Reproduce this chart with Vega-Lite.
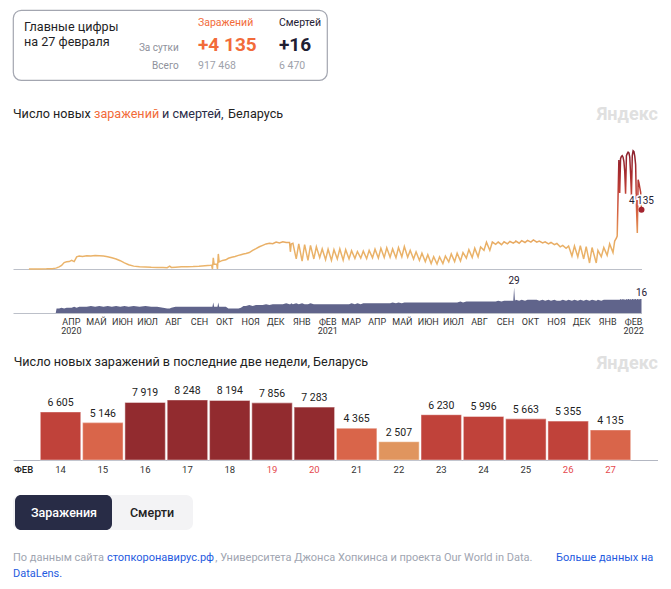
{
  "$schema": "https://vega.github.io/schema/vega-lite/v6.json",
  "background": "#ffffff",
  "padding": {"left": 12, "top": 9, "right": 0, "bottom": 0},
  "spacing": 0,
  "bounds": "flush",
  "config": {
    "font": "Roboto",
    "view": {"stroke": null},
    "locale": {"number": {"decimal": ",", "thousands": " ", "grouping": [3], "currency": ["", ""]}},
    "axis": {"grid": false}
  },
  "datasets": {
    "hdr": [
      {"series": "cases", "head": "Заражений", "day": 4135, "total": 917468},
      {"series": "deaths", "head": "Смертей", "day": 16, "total": 6470}
    ],
    "twoweeks": [
      {"day": "14", "v": 6605}, {"day": "15", "v": 5146}, {"day": "16", "v": 7919}, {"day": "17", "v": 8248},
      {"day": "18", "v": 8194}, {"day": "19", "v": 7856}, {"day": "20", "v": 7283}, {"day": "21", "v": 4365},
      {"day": "22", "v": 2507}, {"day": "23", "v": 6230}, {"day": "24", "v": 5996}, {"day": "25", "v": 5663},
      {"day": "26", "v": 5355}, {"day": "27", "v": 4135}
    ],
    "covid": [
      {"d":"2020-02-27","c":0,"m":0},{"d":"2020-03-05","c":2,"m":0},{"d":"2020-03-12","c":5,"m":0},{"d":"2020-03-19","c":10,"m":0},
      {"d":"2020-03-26","c":25,"m":0},{"d":"2020-03-30","c":60,"m":0},{"d":"2020-03-31","c":80,"m":5},{"d":"2020-04-03","c":150,"m":5},
      {"d":"2020-04-06","c":250,"m":6},{"d":"2020-04-09","c":450,"m":5},{"d":"2020-04-12","c":500,"m":6},{"d":"2020-04-15","c":520,"m":6},
      {"d":"2020-04-18","c":610,"m":6},{"d":"2020-04-21","c":520,"m":7},{"d":"2020-04-24","c":850,"m":6},{"d":"2020-04-27","c":900,"m":7},
      {"d":"2020-05-01","c":870,"m":7},{"d":"2020-05-06","c":920,"m":7},{"d":"2020-05-11","c":900,"m":8},{"d":"2020-05-16","c":940,"m":7},
      {"d":"2020-05-21","c":920,"m":8},{"d":"2020-05-26","c":900,"m":7},{"d":"2020-05-31","c":860,"m":8},{"d":"2020-06-05","c":780,"m":7},
      {"d":"2020-06-10","c":700,"m":8},{"d":"2020-06-15","c":580,"m":7},{"d":"2020-06-20","c":430,"m":8},{"d":"2020-06-25","c":300,"m":7},
      {"d":"2020-07-01","c":200,"m":8},{"d":"2020-07-08","c":160,"m":7},{"d":"2020-07-15","c":140,"m":8},{"d":"2020-07-22","c":120,"m":7},
      {"d":"2020-07-29","c":110,"m":7},{"d":"2020-08-05","c":100,"m":6},{"d":"2020-08-10","c":90,"m":5},{"d":"2020-08-13","c":200,"m":5},
      {"d":"2020-08-15","c":110,"m":6},{"d":"2020-08-20","c":130,"m":7},{"d":"2020-08-27","c":150,"m":7},{"d":"2020-09-03","c":160,"m":7},
      {"d":"2020-09-10","c":170,"m":7},{"d":"2020-09-17","c":190,"m":7},{"d":"2020-09-24","c":230,"m":7},{"d":"2020-10-01","c":260,"m":7},
      {"d":"2020-10-02","c":270,"m":7},{"d":"2020-10-03","c":0,"m":7},{"d":"2020-10-04","c":780,"m":12},{"d":"2020-10-05","c":330,"m":7},
      {"d":"2020-10-08","c":350,"m":7},{"d":"2020-10-09","c":0,"m":7},{"d":"2020-10-10","c":1050,"m":12},{"d":"2020-10-11","c":500,"m":7},
      {"d":"2020-10-15","c":600,"m":7},{"d":"2020-10-19","c":640,"m":7},{"d":"2020-10-22","c":750,"m":5},{"d":"2020-10-26","c":820,"m":5},
      {"d":"2020-10-30","c":870,"m":5},{"d":"2020-11-03","c":950,"m":5},{"d":"2020-11-06","c":1000,"m":6},{"d":"2020-11-09","c":1050,"m":8},
      {"d":"2020-11-12","c":1080,"m":8},{"d":"2020-11-16","c":1150,"m":9},{"d":"2020-11-20","c":1300,"m":8},{"d":"2020-11-24","c":1420,"m":9},
      {"d":"2020-11-28","c":1550,"m":9},{"d":"2020-12-02","c":1650,"m":9},{"d":"2020-12-06","c":1750,"m":10},{"d":"2020-12-10","c":1800,"m":9},
      {"d":"2020-12-14","c":1760,"m":10},{"d":"2020-12-18","c":1880,"m":10},{"d":"2020-12-22","c":1820,"m":10},{"d":"2020-12-26","c":1900,"m":10},
      {"d":"2020-12-30","c":1850,"m":11},{"d":"2021-01-03","c":1850,"m":10},{"d":"2021-01-04","c":1200,"m":10},{"d":"2021-01-05","c":1750,"m":11},
      {"d":"2021-01-07","c":1800,"m":10},{"d":"2021-01-11","c":700,"m":11},{"d":"2021-01-14","c":1750,"m":10},{"d":"2021-01-18","c":550,"m":11},
      {"d":"2021-01-21","c":1700,"m":10},{"d":"2021-01-25","c":600,"m":10},{"d":"2021-01-28","c":1650,"m":11},{"d":"2021-02-01","c":700,"m":10},
      {"d":"2021-02-04","c":1550,"m":10},{"d":"2021-02-08","c":800,"m":10},{"d":"2021-02-11","c":1400,"m":10},{"d":"2021-02-15","c":650,"m":10},
      {"d":"2021-02-18","c":1380,"m":10},{"d":"2021-02-22","c":600,"m":10},{"d":"2021-02-25","c":1350,"m":10},{"d":"2021-03-01","c":700,"m":10},
      {"d":"2021-03-04","c":1400,"m":10},{"d":"2021-03-08","c":620,"m":10},{"d":"2021-03-11","c":1350,"m":10},{"d":"2021-03-15","c":700,"m":10},
      {"d":"2021-03-18","c":1280,"m":11},{"d":"2021-03-22","c":740,"m":10},{"d":"2021-03-25","c":1220,"m":11},{"d":"2021-03-29","c":760,"m":10},
      {"d":"2021-04-01","c":1250,"m":11},{"d":"2021-04-05","c":720,"m":11},{"d":"2021-04-08","c":1300,"m":11},{"d":"2021-04-12","c":780,"m":11},
      {"d":"2021-04-15","c":1380,"m":11},{"d":"2021-04-19","c":760,"m":11},{"d":"2021-04-22","c":1450,"m":11},{"d":"2021-04-26","c":800,"m":11},
      {"d":"2021-04-29","c":1480,"m":11},{"d":"2021-05-03","c":820,"m":11},{"d":"2021-05-06","c":1400,"m":12},{"d":"2021-05-10","c":780,"m":11},
      {"d":"2021-05-13","c":1500,"m":12},{"d":"2021-05-17","c":850,"m":11},{"d":"2021-05-20","c":1560,"m":12},{"d":"2021-05-24","c":820,"m":12},
      {"d":"2021-05-27","c":1300,"m":12},{"d":"2021-05-31","c":700,"m":12},{"d":"2021-06-03","c":1200,"m":12},{"d":"2021-06-07","c":600,"m":12},
      {"d":"2021-06-10","c":1100,"m":12},{"d":"2021-06-14","c":520,"m":12},{"d":"2021-06-17","c":1000,"m":12},{"d":"2021-06-21","c":380,"m":12},
      {"d":"2021-06-24","c":860,"m":12},{"d":"2021-06-28","c":350,"m":12},{"d":"2021-07-01","c":850,"m":12},{"d":"2021-07-05","c":380,"m":12},
      {"d":"2021-07-08","c":900,"m":12},{"d":"2021-07-12","c":500,"m":12},{"d":"2021-07-15","c":1050,"m":12},{"d":"2021-07-19","c":520,"m":12},
      {"d":"2021-07-22","c":1100,"m":12},{"d":"2021-07-26","c":560,"m":13},{"d":"2021-07-29","c":1150,"m":12},{"d":"2021-08-02","c":760,"m":13},
      {"d":"2021-08-05","c":1350,"m":13},{"d":"2021-08-09","c":800,"m":13},{"d":"2021-08-12","c":1450,"m":13},{"d":"2021-08-16","c":850,"m":13},
      {"d":"2021-08-19","c":1530,"m":13},{"d":"2021-08-23","c":1300,"m":13},{"d":"2021-08-26","c":1870,"m":13},{"d":"2021-08-30","c":1300,"m":13},
      {"d":"2021-09-02","c":1880,"m":13},{"d":"2021-09-06","c":1720,"m":13},{"d":"2021-09-09","c":1880,"m":14},{"d":"2021-09-13","c":1700,"m":13},
      {"d":"2021-09-16","c":1900,"m":14},{"d":"2021-09-20","c":1760,"m":14},{"d":"2021-09-23","c":1920,"m":14},{"d":"2021-09-27","c":1800,"m":14},
      {"d":"2021-09-28","c":1850,"m":29},{"d":"2021-09-29","c":1880,"m":14},{"d":"2021-09-30","c":1950,"m":15},{"d":"2021-10-04","c":1800,"m":14},
      {"d":"2021-10-07","c":1980,"m":15},{"d":"2021-10-11","c":1850,"m":14},{"d":"2021-10-14","c":2000,"m":15},{"d":"2021-10-18","c":1880,"m":15},
      {"d":"2021-10-21","c":2030,"m":15},{"d":"2021-10-25","c":1870,"m":15},{"d":"2021-10-28","c":1950,"m":14},{"d":"2021-11-01","c":1820,"m":15},
      {"d":"2021-11-04","c":1900,"m":14},{"d":"2021-11-08","c":1750,"m":15},{"d":"2021-11-11","c":1850,"m":14},{"d":"2021-11-15","c":1700,"m":15},
      {"d":"2021-11-18","c":1780,"m":14},{"d":"2021-11-22","c":1550,"m":14},{"d":"2021-11-25","c":1650,"m":15},{"d":"2021-11-29","c":1450,"m":14},
      {"d":"2021-12-02","c":1600,"m":15},{"d":"2021-12-06","c":900,"m":14},{"d":"2021-12-09","c":1600,"m":15},{"d":"2021-12-13","c":850,"m":14},
      {"d":"2021-12-16","c":1620,"m":15},{"d":"2021-12-20","c":700,"m":14},{"d":"2021-12-23","c":1560,"m":15},{"d":"2021-12-27","c":420,"m":14},
      {"d":"2021-12-30","c":1500,"m":15},{"d":"2022-01-04","c":420,"m":14},{"d":"2022-01-06","c":1300,"m":15},{"d":"2022-01-10","c":850,"m":14},
      {"d":"2022-01-13","c":1500,"m":15},{"d":"2022-01-17","c":950,"m":15},{"d":"2022-01-20","c":1750,"m":15},{"d":"2022-01-24","c":1150,"m":15},
      {"d":"2022-01-26","c":1950,"m":15},{"d":"2022-01-27","c":2050,"m":15},{"d":"2022-01-28","c":2150,"m":15},{"d":"2022-01-29","c":2300,"m":15},
      {"d":"2022-01-30","c":5000,"m":15},{"d":"2022-01-31","c":7600,"m":15},{"d":"2022-02-01","c":5300,"m":15},{"d":"2022-02-02","c":7700,"m":16},
      {"d":"2022-02-03","c":7850,"m":15},{"d":"2022-02-04","c":7900,"m":16},{"d":"2022-02-05","c":7800,"m":15},{"d":"2022-02-06","c":7500,"m":16},
      {"d":"2022-02-07","c":6800,"m":15},{"d":"2022-02-08","c":5250,"m":15},{"d":"2022-02-09","c":7900,"m":16},{"d":"2022-02-10","c":8050,"m":15},
      {"d":"2022-02-11","c":8150,"m":16},{"d":"2022-02-12","c":8100,"m":16},{"d":"2022-02-13","c":7800,"m":15},{"d":"2022-02-14","c":6605,"m":16},
      {"d":"2022-02-15","c":5146,"m":15},{"d":"2022-02-16","c":7919,"m":16},{"d":"2022-02-17","c":8248,"m":16},{"d":"2022-02-18","c":8194,"m":15},
      {"d":"2022-02-19","c":7856,"m":16},{"d":"2022-02-20","c":7283,"m":16},{"d":"2022-02-21","c":4365,"m":15},{"d":"2022-02-22","c":2507,"m":16},
      {"d":"2022-02-23","c":6230,"m":16},{"d":"2022-02-24","c":5996,"m":15},{"d":"2022-02-25","c":5663,"m":16},{"d":"2022-02-26","c":5355,"m":16},
      {"d":"2022-02-27","c":4135,"m":16}
    ]
  },
  "vconcat": [
    {
      "width": 314, "height": 70,
      "view": {"stroke": "#a3a6b0", "strokeWidth": 1.2, "cornerRadius": 8},
      "layer": [
        {
          "data": {"values": [{"col": "t", "t": "Главные цифры\nна 27 февраля"}]},
          "mark": {"type": "text", "align": "left", "baseline": "alphabetic", "fontSize": 12.6, "lineBreak": "\n", "lineHeight": 15, "color": "#1f1f26"},
          "encoding": {
            "text": {"field": "t"},
            "x": {"field": "col", "type": "nominal", "scale": {"type": "point", "range": [11, 11]}, "axis": null},
            "y": {"field": "col", "type": "nominal", "scale": {"type": "point", "range": [20.5, 20.5]}, "axis": null}
          }
        },
        {
          "data": {"values": [{"col": "l", "row": "day", "t": "За сутки"}, {"col": "l", "row": "total", "t": "Всего"}]},
          "mark": {"type": "text", "align": "right", "baseline": "alphabetic", "fontSize": 10, "color": "#8e919b"},
          "encoding": {
            "text": {"field": "t"},
            "x": {"field": "col", "type": "nominal", "scale": {"type": "point", "range": [165.7, 165.7]}, "axis": null},
            "y": {"field": "row", "type": "nominal", "scale": {"type": "point", "domain": ["day", "total"], "range": [40.5, 58.5], "padding": 0}, "axis": null}
          }
        },
        {
          "data": {"name": "hdr"},
          "mark": {"type": "text", "align": "left", "baseline": "alphabetic", "fontSize": 10.5},
          "encoding": {
            "text": {"field": "head"},
            "x": {"field": "series", "type": "nominal", "scale": {"type": "point", "domain": ["cases", "deaths"], "range": [185, 266], "padding": 0}, "axis": null},
            "y": {"field": "series", "type": "nominal", "scale": {"type": "point", "range": [16, 16]}, "axis": null},
            "color": {"field": "series", "type": "nominal", "scale": {"domain": ["cases", "deaths"], "range": ["#f26b3a", "#1f2033"]}, "legend": null}
          }
        },
        {
          "data": {"name": "hdr"},
          "mark": {"type": "text", "align": "left", "baseline": "alphabetic", "fontSize": 19, "fontWeight": "bold"},
          "encoding": {
            "text": {"field": "day", "type": "quantitative", "format": "+,d"},
            "x": {"field": "series", "type": "nominal", "scale": {"type": "point", "domain": ["cases", "deaths"], "range": [185, 266], "padding": 0}, "axis": null},
            "y": {"field": "series", "type": "nominal", "scale": {"type": "point", "range": [40.5, 40.5]}, "axis": null},
            "color": {"field": "series", "type": "nominal", "scale": {"domain": ["cases", "deaths"], "range": ["#f26b3a", "#1f2033"]}, "legend": null}
          }
        },
        {
          "data": {"name": "hdr"},
          "mark": {"type": "text", "align": "left", "baseline": "alphabetic", "fontSize": 10.5, "color": "#9ea1aa"},
          "encoding": {
            "text": {"field": "total", "type": "quantitative", "format": ",d"},
            "x": {"field": "series", "type": "nominal", "scale": {"type": "point", "domain": ["cases", "deaths"], "range": [185, 266], "padding": 0}, "axis": null},
            "y": {"field": "series", "type": "nominal", "scale": {"type": "point", "range": [58.5, 58.5]}, "axis": null}
          }
        }
      ],
      "resolve": {"scale": {"x": "independent", "y": "independent"}}
    },
    {
      "width": 645, "height": 60,
      "data": {"values": [{"seg": "a", "t": "Число новых"}, {"seg": "b", "t": "заражений"}, {"seg": "c", "t": "и смертей,"}, {"seg": "d", "t": "Беларусь"}, {"seg": "y", "t": "Яндекс"}]},
      "layer": [
        {"transform": [{"filter": "datum.seg == 'a'"}], "mark": {"type": "text", "align": "left", "baseline": "alphabetic", "fontSize": 12.6, "color": "#222222"},
         "encoding": {"text": {"field": "t"}, "x": {"field": "seg", "type": "nominal", "scale": {"type": "point", "range": [0, 0]}, "axis": null}, "y": {"field": "seg", "type": "nominal", "scale": {"type": "point", "range": [38, 38]}, "axis": null}}},
        {"transform": [{"filter": "datum.seg == 'b'"}], "mark": {"type": "text", "align": "left", "baseline": "alphabetic", "fontSize": 12.6, "color": "#f26b3a"},
         "encoding": {"text": {"field": "t"}, "x": {"field": "seg", "type": "nominal", "scale": {"type": "point", "range": [81, 81]}, "axis": null}, "y": {"field": "seg", "type": "nominal", "scale": {"type": "point", "range": [38, 38]}, "axis": null}}},
        {"transform": [{"filter": "datum.seg == 'c'"}], "mark": {"type": "text", "align": "left", "baseline": "alphabetic", "fontSize": 12.6, "color": "#2a2d48"},
         "encoding": {"text": {"field": "t"}, "x": {"field": "seg", "type": "nominal", "scale": {"type": "point", "range": [149, 149]}, "axis": null}, "y": {"field": "seg", "type": "nominal", "scale": {"type": "point", "range": [38, 38]}, "axis": null}}},
        {"transform": [{"filter": "datum.seg == 'd'"}], "mark": {"type": "text", "align": "left", "baseline": "alphabetic", "fontSize": 12.6, "color": "#222222"},
         "encoding": {"text": {"field": "t"}, "x": {"field": "seg", "type": "nominal", "scale": {"type": "point", "range": [215, 215]}, "axis": null}, "y": {"field": "seg", "type": "nominal", "scale": {"type": "point", "range": [38, 38]}, "axis": null}}},
        {"transform": [{"filter": "datum.seg == 'y'"}], "mark": {"type": "text", "align": "right", "baseline": "alphabetic", "fontSize": 18, "fontWeight": "bold", "color": "#e0e0e0"},
         "encoding": {"text": {"field": "t"}, "x": {"field": "seg", "type": "nominal", "scale": {"type": "point", "range": [645, 645]}, "axis": null}, "y": {"field": "seg", "type": "nominal", "scale": {"type": "point", "range": [40, 40]}, "axis": null}}}
      ],
      "resolve": {"scale": {"x": "independent", "y": "independent"}}
    },
    {
      "width": 628.5, "height": 129,
      "data": {"name": "covid"},
      "encoding": {
        "x": {"field": "d", "type": "temporal",
              "scale": {"domain": [{"year": 2020, "month": 2, "date": 8, "utc": true}, {"year": 2022, "month": 2, "date": 27, "utc": true}]},
              "axis": {"labels": false, "ticks": false, "title": null, "domainColor": "#bcc0c9", "domainWidth": 1}}
      },
      "layer": [
        {
          "mark": {"type": "line", "strokeWidth": 1.5, "clip": false,
                   "stroke": {"gradient": "linear", "x1": 0, "y1": 0, "x2": 0, "y2": 1,
                              "stops": [{"offset": 0, "color": "#8a1f2c"}, {"offset": 0.2, "color": "#a92d2f"}, {"offset": 0.38, "color": "#c44538"},
                                        {"offset": 0.55, "color": "#d96b45"}, {"offset": 0.7, "color": "#e59a58"}, {"offset": 0.8, "color": "#e9b066"}, {"offset": 1, "color": "#ebb56c"}]}},
          "encoding": {"y": {"field": "c", "type": "quantitative", "scale": {"domain": [0, 8700]}, "axis": null}}
        },
        {
          "transform": [{"filter": "datum.c == 4135"}],
          "mark": {"type": "circle", "size": 36, "color": "#a3242e", "opacity": 1},
          "encoding": {"y": {"field": "c", "type": "quantitative"}}
        },
        {
          "transform": [{"filter": "datum.c == 4135"}],
          "mark": {"type": "text", "dy": -9, "fontSize": 10, "color": "#ffffff", "stroke": "#ffffff", "strokeWidth": 3},
          "encoding": {"y": {"field": "c", "type": "quantitative"}, "text": {"field": "c", "type": "quantitative", "format": ",d"}}
        },
        {
          "transform": [{"filter": "datum.c == 4135"}],
          "mark": {"type": "text", "dy": -9, "fontSize": 10, "color": "#1f2033"},
          "encoding": {"y": {"field": "c", "type": "quantitative"}, "text": {"field": "c", "type": "quantitative", "format": ",d"}}
        }
      ]
    },
    {
      "width": 628.5, "height": 44,
      "data": {"name": "covid"},
      "encoding": {
        "x": {"field": "d", "type": "temporal",
              "scale": {"domain": [{"year": 2020, "month": 2, "date": 8, "utc": true}, {"year": 2022, "month": 2, "date": 27, "utc": true}]},
              "axis": {
                "title": null, "ticks": false, "domainColor": "#bcc0c9", "domainWidth": 1,
                "labelFontSize": 9, "labelColor": "#333333", "labelPadding": 4, "labelLineHeight": 9,
                "labelOverlap": false, "labelFlush": false, "labelBound": false,
                "values": [
                  {"year": 2020, "month": 4, "date": 17, "utc": true}, {"year": 2020, "month": 5, "date": 17, "utc": true}, {"year": 2020, "month": 6, "date": 17, "utc": true},
                  {"year": 2020, "month": 7, "date": 17, "utc": true}, {"year": 2020, "month": 8, "date": 17, "utc": true}, {"year": 2020, "month": 9, "date": 17, "utc": true},
                  {"year": 2020, "month": 10, "date": 17, "utc": true}, {"year": 2020, "month": 11, "date": 17, "utc": true}, {"year": 2020, "month": 12, "date": 17, "utc": true},
                  {"year": 2021, "month": 1, "date": 17, "utc": true}, {"year": 2021, "month": 2, "date": 17, "utc": true}, {"year": 2021, "month": 3, "date": 17, "utc": true},
                  {"year": 2021, "month": 4, "date": 17, "utc": true}, {"year": 2021, "month": 5, "date": 17, "utc": true}, {"year": 2021, "month": 6, "date": 17, "utc": true},
                  {"year": 2021, "month": 7, "date": 17, "utc": true}, {"year": 2021, "month": 8, "date": 17, "utc": true}, {"year": 2021, "month": 9, "date": 17, "utc": true},
                  {"year": 2021, "month": 10, "date": 17, "utc": true}, {"year": 2021, "month": 11, "date": 17, "utc": true}, {"year": 2021, "month": 12, "date": 17, "utc": true},
                  {"year": 2022, "month": 1, "date": 17, "utc": true}, {"year": 2022, "month": 2, "date": 17, "utc": true}
                ],
                "labelExpr": "(utcmonth(datum.value) == 1 || (utcyear(datum.value) == 2020 && utcmonth(datum.value) == 3)) ? [['ЯНВ','ФЕВ','МАР','АПР','МАЙ','ИЮН','ИЮЛ','АВГ','СЕН','ОКТ','НОЯ','ДЕК'][utcmonth(datum.value)], '' + utcyear(datum.value)] : ['ЯНВ','ФЕВ','МАР','АПР','МАЙ','ИЮН','ИЮЛ','АВГ','СЕН','ОКТ','НОЯ','ДЕК'][utcmonth(datum.value)]"
              }}
      },
      "layer": [
        {
          "mark": {"type": "area", "color": "#60648b", "opacity": 1},
          "encoding": {"y": {"field": "m", "type": "quantitative", "scale": {"domain": [0, 50]}, "axis": null}}
        },
        {
          "transform": [{"filter": "datum.m == 29 || datum.c == 4135"}],
          "mark": {"type": "text", "baseline": "bottom", "dy": -1, "fontSize": 10, "color": "#1f2033"},
          "encoding": {"y": {"field": "m", "type": "quantitative"}, "text": {"field": "m", "type": "quantitative"}}
        }
      ]
    },
    {
      "width": 645, "height": 67,
      "data": {"values": [{"seg": "a", "t": "Число новых заражений в последние две недели, Беларусь"}, {"seg": "y", "t": "Яндекс"}]},
      "layer": [
        {"transform": [{"filter": "datum.seg == 'a'"}], "mark": {"type": "text", "align": "left", "baseline": "alphabetic", "fontSize": 12.6, "color": "#222222"},
         "encoding": {"text": {"field": "t"}, "x": {"field": "seg", "type": "nominal", "scale": {"type": "point", "range": [0.7, 0.7]}, "axis": null}, "y": {"field": "seg", "type": "nominal", "scale": {"type": "point", "range": [52.5, 52.5]}, "axis": null}}},
        {"transform": [{"filter": "datum.seg == 'y'"}], "mark": {"type": "text", "align": "right", "baseline": "alphabetic", "fontSize": 18, "fontWeight": "bold", "color": "#e0e0e0"},
         "encoding": {"text": {"field": "t"}, "x": {"field": "seg", "type": "nominal", "scale": {"type": "point", "range": [645, 645]}, "axis": null}, "y": {"field": "seg", "type": "nominal", "scale": {"type": "point", "range": [55.5, 55.5]}, "axis": null}}}
      ],
      "resolve": {"scale": {"x": "independent", "y": "independent"}}
    },
    {
      "width": 645, "height": 80,
      "data": {"name": "twoweeks"},
      "encoding": {
        "x": {"field": "day", "type": "ordinal", "scale": {"paddingInner": 0.043, "paddingOuter": 0.645},
              "axis": {"ticks": false, "domainColor": "#b3b7c2", "domainWidth": 1, "labelAngle": 0, "labelFontSize": 9.5, "labelPadding": 4,
                       "labelColor": {"condition": {"test": "indexof(['19','20','26','27'], datum.value) >= 0", "value": "#e5484d"}, "value": "#333333"},
                       "title": "ФЕВ", "titleX": 0.7, "titleY": 12, "titleAlign": "left", "titleAnchor": "start", "titleBaseline": "alphabetic",
                       "titleFontSize": 9.5, "titleFontWeight": 500, "titleColor": "#222222"}}
      },
      "layer": [
        {
          "mark": {"type": "bar", "stroke": "#ffffff", "strokeOpacity": 0.4, "strokeWidth": 1.2},
          "encoding": {
            "y": {"field": "v", "type": "quantitative", "scale": {"domain": [0, 10100]}, "axis": null},
            "color": {"field": "v", "type": "quantitative", "scale": {"type": "threshold", "domain": [4000, 5200, 7000], "range": ["#e0955e", "#d9654a", "#c0423a", "#922b2f"]}, "legend": null}
          }
        },
        {
          "mark": {"type": "text", "baseline": "bottom", "dy": -4, "fontSize": 10.5, "color": "#222222"},
          "encoding": {
            "y": {"field": "v", "type": "quantitative"},
            "text": {"field": "v", "type": "quantitative", "format": ",d"}
          }
        }
      ]
    },
    {
      "width": 645, "height": 35,
      "data": {"values": [{"t": ""}]},
      "mark": {"type": "text"},
      "encoding": {"text": {"field": "t"}}
    },
    {
      "width": 180, "height": 35,
      "view": {"fill": "#f3f3f5", "cornerRadius": 7, "stroke": null},
      "data": {"values": [{"b": "Заражения", "on": "1"}, {"b": "Смерти", "on": "0"}]},
      "layer": [
        {
          "transform": [{"filter": "datum.on == '1'"}],
          "mark": {"type": "bar", "color": "#282c46", "cornerRadius": 6},
          "encoding": {"x": {"field": "b", "type": "nominal", "scale": {"domain": ["Заражения", "Смерти"], "range": [2, 196], "paddingInner": 0, "paddingOuter": 0}, "axis": null}}
        },
        {
          "mark": {"type": "text", "fontSize": 12.5, "fontWeight": 500},
          "encoding": {
            "x": {"field": "b", "type": "nominal", "scale": {"type": "point", "domain": ["Заражения", "Смерти"], "range": [51, 139], "padding": 0}, "axis": null},
            "text": {"field": "b"},
            "color": {"field": "on", "type": "nominal", "scale": {"domain": ["1", "0"], "range": ["#ffffff", "#222222"]}, "legend": null}
          }
        }
      ],
      "resolve": {"scale": {"x": "independent"}}
    },
    {
      "width": 645, "height": 55,
      "data": {"values": [
        {"pos": "p0", "line": "1", "kind": "plain", "t": "По данным сайта"},
        {"pos": "p0", "line": "2", "kind": "link", "t": "DataLens."},
        {"pos": "p1", "line": "1", "kind": "link", "t": "стопкоронавирус.рф"},
        {"pos": "p2", "line": "1", "kind": "plain", "t": ", Университета Джонса Хопкинса и проекта Our World in Data."},
        {"pos": "p3", "line": "1", "kind": "link", "t": "Больше данных на"}
      ]},
      "encoding": {
        "y": {"field": "line", "type": "nominal", "scale": {"type": "point", "domain": ["1", "2"], "range": [31, 46.5], "padding": 0}, "axis": null},
        "color": {"field": "kind", "type": "nominal", "scale": {"domain": ["plain", "link"], "range": ["#a0a5b1", "#1f5be0"]}, "legend": null},
        "text": {"field": "t"}
      },
      "layer": [
        {"transform": [{"filter": "datum.pos == 'p0'"}], "mark": {"type": "text", "align": "left", "baseline": "alphabetic", "fontSize": 11},
         "encoding": {"x": {"field": "pos", "type": "nominal", "scale": {"type": "point", "range": [0, 0]}, "axis": null}}},
        {"transform": [{"filter": "datum.pos == 'p1'"}], "mark": {"type": "text", "align": "left", "baseline": "alphabetic", "fontSize": 11},
         "encoding": {"x": {"field": "pos", "type": "nominal", "scale": {"type": "point", "range": [94, 94]}, "axis": null}}},
        {"transform": [{"filter": "datum.pos == 'p2'"}], "mark": {"type": "text", "align": "left", "baseline": "alphabetic", "fontSize": 11},
         "encoding": {"x": {"field": "pos", "type": "nominal", "scale": {"type": "point", "range": [202.3, 202.3]}, "axis": null}}},
        {"transform": [{"filter": "datum.pos == 'p3'"}], "mark": {"type": "text", "align": "left", "baseline": "alphabetic", "fontSize": 11},
         "encoding": {"x": {"field": "pos", "type": "nominal", "scale": {"type": "point", "range": [543, 543]}, "axis": null}}}
      ],
      "resolve": {"scale": {"x": "independent"}}
    }
  ]
}
